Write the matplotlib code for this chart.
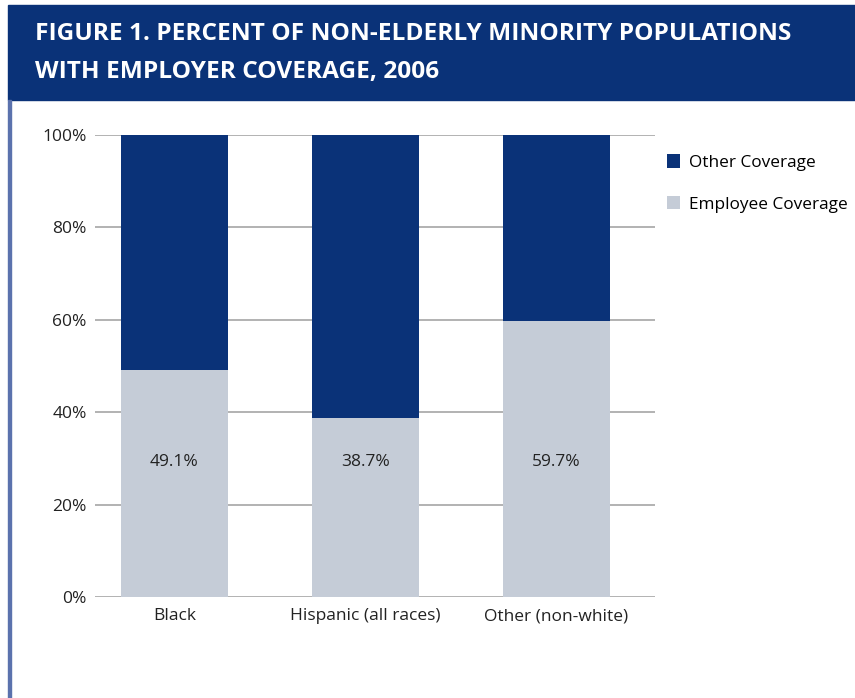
import matplotlib.pyplot as plt
from matplotlib.patches import Rectangle
import numpy as np

# data
groups = ["Black", "Hispanic (all races)", "Other (non-white)"]
employee = [49.1, 38.7, 59.7]
other = [100 - v for v in employee]
yticks = [0, 20, 40, 60, 80, 100]

dark_blue = "#0a3278"
light_gray = "#c5ccd7"

plt.rcParams["font.family"] = ["Open Sans", "DejaVu Sans"]

fig = plt.figure(figsize=(8.55, 6.98), dpi=100)
W, H = 855, 698

# title banner
fig.patches.append(Rectangle((8 / W, 1 - 100 / H), 1, 95 / H, transform=fig.transFigure,
                             color=dark_blue, zorder=0))
fig.text(35 / W, 1 - 34 / H, "FIGURE 1. PERCENT OF NON-ELDERLY MINORITY POPULATIONS",
         color="white", fontsize=17.6, fontweight="bold", va="center", ha="left")
fig.text(35 / W, 1 - 72 / H, "WITH EMPLOYER COVERAGE, 2006",
         color="white", fontsize=17.6, fontweight="bold", va="center", ha="left")
# left border line
fig.patches.append(Rectangle((8 / W, 0), 2.5 / W, 1 - 100 / H, transform=fig.transFigure,
                             color="#5b72ad", zorder=0))

ax = fig.add_axes([95 / W, 1 - 597 / H, 560 / W, 462 / H])
x = np.arange(len(groups))
ax.bar(x, employee, width=0.56, color=light_gray, label="Employee Coverage", zorder=2)
ax.bar(x, other, width=0.56, bottom=employee, color=dark_blue, label="Other Coverage", zorder=2)

for xi, v in zip(x, employee):
    ax.text(xi, 29.3, f"{v}%", ha="center", va="center", fontsize=12.5, color="#222222")

ax.set_xlim(-0.416, 2.516)
ax.set_ylim(0, 100)
ax.set_yticks(yticks)
ax.set_yticklabels([f"{t}%" for t in yticks])
ax.set_xticks(x)
ax.set_xticklabels(groups)
ax.tick_params(axis="both", length=0, labelsize=12.5, colors="#222222")
ax.tick_params(axis="y", pad=6)
ax.tick_params(axis="x", pad=8)
ax.yaxis.grid(True, color="#a6a6a6", linewidth=1.2, zorder=1)
ax.set_axisbelow(True)
for s in ax.spines.values():
    s.set_visible(False)

handles, labels = ax.get_legend_handles_labels()
fig.legend(handles[::-1], labels[::-1], loc="upper left", bbox_to_anchor=(651 / W, 1 - 139 / H),
           frameon=False, fontsize=12.4, handlelength=0.8, handleheight=0.8,
           handletextpad=0.5, labelspacing=1.45)

fig.savefig("out.png", dpi=100)
